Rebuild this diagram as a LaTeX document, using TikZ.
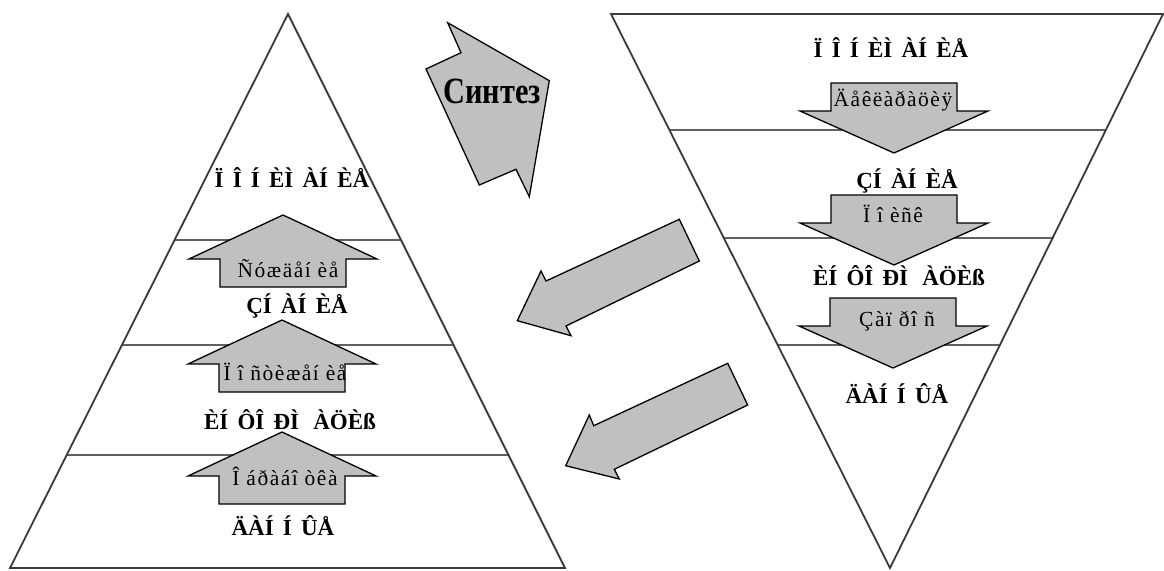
\documentclass[tikz,border=0pt]{standalone}
\usepackage{fontspec}
\setmainfont{Liberation Serif}
\newfontfamily\labfont{Liberation Serif}
\newfontfamily\arrfont[LetterSpace=7]{Liberation Serif}
\usetikzlibrary{calc}
\definecolor{arrgray}{HTML}{C0C0C0}
\definecolor{edgegray}{HTML}{3A3A3A}
\definecolor{linegray}{HTML}{606060}
\newcommand\widegap{\hspace{5pt}}
\newcommand\lvlfont{\labfont\fontsize{23}{26}\selectfont\bfseries\spaceskip 0.4em\relax}
\newcommand\actfont{\arrfont\fontsize{21.5}{24}\selectfont}
\begin{document}
\begin{tikzpicture}[x=1pt,y=-1pt,
  edge/.style={draw=edgegray, line width=1.8pt, line join=miter},
  tier/.style={draw=linegray, line width=2.6pt},
  blockarrow/.style={draw=black, line width=1.3pt, fill=arrgray, line join=miter},
  lvl/.style={font=\lvlfont, inner sep=0pt, anchor=base},
  acttext/.style={font=\actfont, inner sep=0pt, anchor=base},
  uparr/.pic={\path[blockarrow] (0,0) -- (94,44) -- (63,44) -- (63,72) -- (-63,72) -- (-63,44) -- (-94,44) -- cycle;},
  downarr/.pic={\path[blockarrow] (-63,0) -- (63,0) -- (63,28) -- (94,28) -- (0,70) -- (-94,28) -- (-63,28) -- cycle;}
]
\useasboundingbox (0,0) rectangle (1164,570);
\fill[white] (0,0) rectangle (1164,570);

% ---------- left pyramid ----------
\coordinate (LA) at (288,14);
\coordinate (LL) at (10,568);
\coordinate (LR) at (565,568);
\foreach \yy in {240,345,455}{
  \pgfmathsetmacro{\tt}{(\yy-14)/554}
  \draw[tier] ($(LA)!\tt!(LL)$) -- ($(LA)!\tt!(LR)$);
}
\draw[edge] (LA) -- (LL) -- (LR) -- cycle;

% ---------- right inverted triangle ----------
\coordinate (RL) at (611,14);
\coordinate (RR) at (1163,14);
\coordinate (RA) at (890,568);
\foreach \yy in {130,238,345}{
  \pgfmathsetmacro{\tt}{(\yy-14)/554}
  \draw[tier] ($(RL)!\tt!(RA)$) -- ($(RR)!\tt!(RA)$);
}
\draw[edge] (RL) -- (RR) -- (RA) -- cycle;

% ---------- block arrows in the pyramids ----------
\pic at (283,215) {uparr};
\pic at (282,320) {uparr};
\pic at (282,432) {uparr};
\pic at (894,83) {downarr};
\pic at (894,195) {downarr};
\pic at (893,298) {downarr};

% ---------- Synthesis arrow ----------
\draw[blockarrow] (447.7,22.7) -- (549.3,80.7) -- (529.3,196.7) -- (516,169.3)
  -- (479.3,185) -- (426,69) -- (461,52.7) -- cycle;
\node (synt) [inner sep=0pt, anchor=base] at (492,103)
  {\scalebox{0.82}[1]{\bfseries\fontsize{37}{37}\selectfont Синтез}};

% ---------- diagonal arrows ----------
\draw[blockarrow] (679.3,219.3) -- (699.3,261) -- (566,326) -- (571,335.7)
  -- (517.3,320.7) -- (541,271) -- (546,281) -- cycle;
\draw[blockarrow] (727.7,363.3) -- (747.7,405) -- (614.3,469.3) -- (619.3,479)
  -- (565.7,465.7) -- (589.3,415) -- (593.7,425.7) -- cycle;

% ---------- left texts ----------
\node (l1) [lvl] at (292,187) {Ï Î Í ÈÌ ÀÍ ÈÅ};
\node (la1) [acttext] at (288,277) {Ñóæäåí èå};
\node (l2) [lvl] at (297,313) {ÇÍ ÀÍ ÈÅ};
\node (la2) [acttext] at (285,380) {Ï î ñòèæåí èå};
\node (l3) [lvl] at (290,429) {ÈÍ ÔÎ ÐÌ\widegap{} ÀÖÈß};
\node (la3) [acttext] at (285,485) {Î áðàáî òêà};
\node (l4) [lvl] at (283,535) {ÄÀÍ Í ÛÅ};

% ---------- right texts ----------
\node (r1) [lvl] at (891,57) {Ï Î Í ÈÌ ÀÍ ÈÅ};
\node (ra1) [acttext] at (893,106) {Äåêëàðàöèÿ};
\node (r2) [lvl] at (907,188) {ÇÍ ÀÍ ÈÅ};
\node (ra2) [acttext] at (893,222) {Ï î èñê};
\node (r3) [lvl] at (899,285) {ÈÍ ÔÎ ÐÌ\widegap{} ÀÖÈß};
\node (ra3) [acttext] at (897,326) {Çàï ðî ñ};
\node (r4) [lvl] at (897,403) {ÄÀÍ Í ÛÅ};
\end{tikzpicture}
\end{document}
